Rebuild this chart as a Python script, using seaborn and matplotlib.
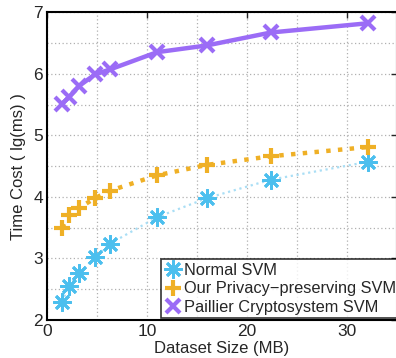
import numpy as np
import pandas as pd
import seaborn as sns
import matplotlib.pyplot as plt
from matplotlib.lines import Line2D

# dataset sizes (MB)
size_mb = [1.5, 2.2, 3.2, 4.8, 6.3, 11.0, 16.0, 22.4, 32.1]
# time cost, lg(ms)
normal_svm = [2.29, 2.56, 2.76, 3.02, 3.24, 3.67, 3.98, 4.28, 4.57]
privacy_svm = [3.50, 3.70, 3.82, 3.98, 4.10, 4.35, 4.52, 4.66, 4.81]
paillier_svm = [5.51, 5.62, 5.80, 5.99, 6.07, 6.35, 6.46, 6.67, 6.82]

labels = ['Normal SVM', 'Our Privacy\u2212preserving SVM', 'Paillier Cryptosystem SVM']

sns.set_style('white')
plt.rcParams['font.family'] = ['Liberation Sans', 'DejaVu Sans']

fig = plt.figure(figsize=(3.96, 3.58), dpi=100)
ax = fig.add_axes([0.1187, 0.106, 0.8838, 0.860])

blue = '#4cbfee'
orange = '#efb026'
purple = '#9b6cf6'
asterisk = (8, 2, 0)

sns.lineplot(x=size_mb, y=normal_svm, ax=ax, color='#a9def5', linestyle=':', linewidth=1.6)
sns.lineplot(x=size_mb, y=privacy_svm, ax=ax, color=orange, linestyle=':', linewidth=3.2)
sns.lineplot(x=size_mb, y=paillier_svm, ax=ax, color=purple, linestyle='-', linewidth=3.2)

ax.plot(size_mb, normal_svm, linestyle='none', marker=asterisk, markersize=13,
        markeredgewidth=2, color=blue)
ax.plot(size_mb, privacy_svm, linestyle='none', marker='+', markersize=12,
        markeredgewidth=3, color=orange)
ax.plot(size_mb, paillier_svm, linestyle='none', marker='x', markersize=10,
        markeredgewidth=3, color=purple)

ax.set_xlim(0, 35)
ax.set_ylim(2, 7)
ax.set_xticks([0, 10, 20, 30])
ax.set_yticks([2, 3, 4, 5, 6, 7])
ax.set_xticks(np.arange(0, 36, 5), minor=True)
ax.set_yticks(np.arange(2, 7.01, 0.5), minor=True)
ax.grid(True, which='both', color='#b0b0b0', linestyle=(0, (1, 2)), linewidth=0.9)
ax.tick_params(which='both', direction='in', top=True, right=True, length=4,
               width=1, labelsize=12.5, pad=3)
ax.tick_params(which='minor', length=0)
for s in ax.spines.values():
    s.set_color('black')
    s.set_linewidth(1.5)

ax.set_xlabel('Dataset Size (MB)', fontsize=12, labelpad=1)
ax.set_ylabel('Time Cost ( lg(ms) )', fontsize=12, labelpad=5)

handles = [
    Line2D([], [], linestyle='none', marker=asterisk, markersize=13, markeredgewidth=2, color=blue),
    Line2D([], [], linestyle='none', marker='+', markersize=12, markeredgewidth=3, color=orange),
    Line2D([], [], linestyle='none', marker='x', markersize=10, markeredgewidth=3, color=purple),
]
leg = ax.legend(handles, labels, loc='lower left', bbox_to_anchor=(0.326, 0.006),
                borderaxespad=0, fontsize=11.8, frameon=True, fancybox=False,
                handlelength=1.0, handletextpad=0.2, labelspacing=0.22,
                borderpad=0.2)
leg.get_frame().set_edgecolor('black')
leg.get_frame().set_linewidth(1.2)

fig.savefig('out.png', dpi=100)
